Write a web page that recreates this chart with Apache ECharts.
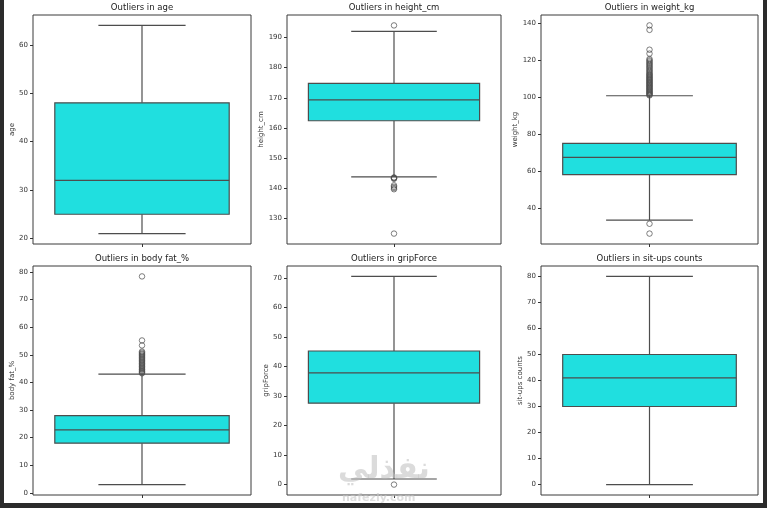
<!DOCTYPE html>
<html>
<head>
<meta charset="utf-8">
<style>
  html, body { margin: 0; padding: 0; background: #fff; }
  #chart { width: 767px; height: 508px; }
</style>
<script src="https://cdn.jsdelivr.net/npm/echarts@6/dist/echarts.min.js"></script>
</head>
<body>
<div id="chart"></div>
<script>
// five numbers per box: [lower whisker, q1, median, q3, upper whisker]
const ageBox = [21, 25, 32, 48, 64];
const ageFliers = [];
const ageTicks = [20, 30, 40, 50, 60];

const heightBox = [143.8, 162.4, 169.3, 174.8, 192.0];
const heightFliers = [194.0, 143.6, 143.5, 143.3, 143.2, 141.0, 140.5, 140.1, 139.7, 125.0];
const heightTicks = [130, 140, 150, 160, 170, 180, 190];

const weightBox = [33.7, 58.2, 67.5, 75.0, 100.7];
const weightFliers = [138.6, 136.2, 125.5, 123.4, 120.5, 119.8, 119.2, 118.5, 117.9, 117.3,
  116.6, 116.0, 115.4, 114.7, 114.1, 113.5, 112.8, 112.3, 111.9, 111.4, 110.9, 110.5,
  110.1, 109.6, 109.2, 108.8, 108.3, 107.9, 107.5, 107.1, 106.6, 106.2, 105.8, 105.4,
  104.9, 104.5, 104.1, 103.7, 103.2, 102.8, 102.4, 102.0, 101.6, 101.2, 100.9, 31.7, 26.4];
const weightTicks = [40, 60, 80, 100, 120, 140];

const fatBox = [3.0, 18.0, 22.8, 28.0, 43.0];
const fatFliers = [78.4, 55.2, 53.4, 51.2, 50.8, 50.4, 50.1, 49.7, 49.3, 49.0, 48.6, 48.2,
  47.9, 47.5, 47.1, 46.8, 46.4, 46.0, 45.7, 45.3, 44.9, 44.6, 44.2, 43.9, 43.6, 43.3];
const fatTicks = [0, 10, 20, 30, 40, 50, 60, 70, 80];

const gripBox = [1.9, 27.6, 37.9, 45.3, 70.6];
const gripFliers = [0];
const gripTicks = [0, 10, 20, 30, 40, 50, 60, 70];

const situpsBox = [0, 30, 41, 50, 80];
const situpsFliers = [];
const situpsTicks = [0, 10, 20, 30, 40, 50, 60, 70, 80];

const columns = ['age', 'height_cm', 'weight_kg', 'body fat_%', 'gripForce', 'sit-ups counts'];

const FONT = '"DejaVu Sans", sans-serif';
const LINE = '#4d4d4d';
const BOX_FILL = '#20dfdf';

const panels = [
  { name: columns[0], box: ageBox, fliers: ageFliers, ticks: ageTicks },
  { name: columns[1], box: heightBox, fliers: heightFliers, ticks: heightTicks },
  { name: columns[2], box: weightBox, fliers: weightFliers, ticks: weightTicks },
  { name: columns[3], box: fatBox, fliers: fatFliers, ticks: fatTicks },
  { name: columns[4], box: gripBox, fliers: gripFliers, ticks: gripTicks },
  { name: columns[5], box: situpsBox, fliers: situpsFliers, ticks: situpsTicks },
];

// pixel layout of each subplot
const layout = [
  { left: 33, top: 15, width: 218, height: 229, gap: 17 },
  { left: 287, top: 15, width: 214, height: 229, gap: 21 },
  { left: 541, top: 15, width: 217, height: 229, gap: 21 },
  { left: 33, top: 266, width: 218, height: 229, gap: 17 },
  { left: 287, top: 266, width: 214, height: 229, gap: 17 },
  { left: 541, top: 266, width: 217, height: 229, gap: 17 },
];

// draws box, median, whiskers and half-width caps like seaborn
function renderBox(params, api) {
  const lo = api.value(1), q1 = api.value(2), med = api.value(3), q3 = api.value(4), hi = api.value(5);
  const bl = api.coord([-0.4, q3]);
  const br = api.coord([0.4, q1]);
  const cx = api.coord([0, med])[0];
  const yLo = api.coord([0, lo])[1];
  const yHi = api.coord([0, hi])[1];
  const yQ1 = br[1], yQ3 = bl[1];
  const yMed = api.coord([0, med])[1];
  const capL = api.coord([-0.2, lo])[0];
  const capR = api.coord([0.2, lo])[0];
  const lineStyle = { stroke: LINE, lineWidth: 1.2 };
  return {
    type: 'group',
    children: [
      { type: 'line', shape: { x1: cx, y1: yQ3, x2: cx, y2: yHi }, style: lineStyle },
      { type: 'line', shape: { x1: cx, y1: yQ1, x2: cx, y2: yLo }, style: lineStyle },
      { type: 'line', shape: { x1: capL, y1: yHi, x2: capR, y2: yHi }, style: lineStyle },
      { type: 'line', shape: { x1: capL, y1: yLo, x2: capR, y2: yLo }, style: lineStyle },
      {
        type: 'rect',
        shape: { x: bl[0], y: yQ3, width: br[0] - bl[0], height: yQ1 - yQ3 },
        style: { fill: BOX_FILL, stroke: LINE, lineWidth: 1.2 },
      },
      { type: 'line', shape: { x1: bl[0], y1: yMed, x2: br[0], y2: yMed }, style: lineStyle },
    ],
  };
}

const grid = [], xAxis = [], yAxis = [], title = [], series = [];

panels.forEach((p, i) => {
  const g = layout[i];
  const all = p.box.concat(p.fliers);
  const dMin = Math.min(...all), dMax = Math.max(...all);
  const pad = (dMax - dMin) * 0.05;

  grid.push({
    left: g.left, top: g.top, width: g.width, height: g.height,
    show: true, borderColor: '#3a3a3a', borderWidth: 1, backgroundColor: '#fff',
  });

  title.push({
    text: 'Outliers in ' + p.name,
    left: g.left + g.width / 2,
    top: g.top - 12,
    textAlign: 'center',
    padding: 0,
    textStyle: { fontFamily: FONT, fontSize: 8.5, fontWeight: 'normal', color: '#222' },
  });

  xAxis.push({
    type: 'value', gridIndex: i, min: -0.5, max: 0.5,
    axisLine: { show: false, onZero: false },
    axisTick: { show: true, length: 3, customValues: [0], lineStyle: { color: '#333' } },
    axisLabel: { show: false },
    splitLine: { show: false },
  });

  yAxis.push({
    type: 'value', gridIndex: i,
    min: dMin - pad, max: dMax + pad,
    name: p.name,
    nameLocation: 'middle',
    nameGap: g.gap,
    nameTextStyle: { fontFamily: FONT, fontSize: 7, color: '#333' },
    axisLine: { show: false, onZero: false },
    axisTick: { show: true, length: 3, customValues: p.ticks, lineStyle: { color: '#333' } },
    axisLabel: { fontFamily: FONT, fontSize: 7, color: '#333', margin: 5, customValues: p.ticks },
    splitLine: { show: false },
  });

  series.push({
    type: 'custom',
    xAxisIndex: i, yAxisIndex: i,
    renderItem: renderBox,
    encode: { x: 0, y: [1, 2, 3, 4, 5] },
    data: [[0].concat(p.box)],
    silent: true,
  });

  series.push({
    type: 'scatter',
    xAxisIndex: i, yAxisIndex: i,
    data: p.fliers.map(v => [0, v]),
    symbol: 'circle',
    symbolSize: 5.5,
    itemStyle: { color: 'rgba(255,255,255,0)', borderColor: LINE, borderWidth: 0.9 },
    silent: true,
    z: 3,
  });
});

const chart = echarts.init(document.getElementById('chart'));
chart.setOption({
  backgroundColor: '#fff',
  animation: false,
  grid, xAxis, yAxis, title, series,
  graphic: [
    // screenshot frame
    { type: 'rect', left: 0, top: 0, shape: { width: 4, height: 508 }, style: { fill: '#2b2b2b' }, z: 10 },
    { type: 'rect', left: 763, top: 0, shape: { width: 4, height: 508 }, style: { fill: '#2b2b2b' }, z: 10 },
    { type: 'rect', left: 0, top: 503, shape: { width: 767, height: 5 }, style: { fill: '#2b2b2b' }, z: 10 },
    // watermark
    {
      type: 'text', left: 338, top: 455, z: 11,
      style: { text: 'نفذلي', font: 'bold 30px "DejaVu Sans"', fill: 'rgba(190,190,190,0.55)' },
    },
    {
      type: 'text', left: 342, top: 493, z: 11,
      style: { text: 'nafezly.com', font: 'bold 11px "DejaVu Sans"', fill: 'rgba(200,200,200,0.6)' },
    },
  ],
});
</script>
</body>
</html>
